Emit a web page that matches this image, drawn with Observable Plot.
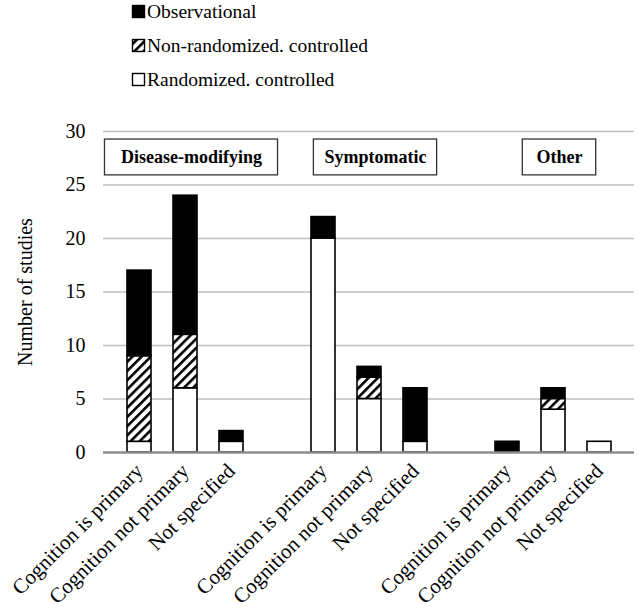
<!DOCTYPE html>
<html><head><meta charset="utf-8">
<script src="https://cdn.jsdelivr.net/npm/d3@7"></script>
<script src="https://cdn.jsdelivr.net/npm/@observablehq/plot@0.6"></script>
<style>
body{margin:0;background:#fff;font-family:"Liberation Serif";}
#wrap{position:relative;width:638px;height:609px;}
#wrap svg{position:absolute;left:0;top:0;}
#legend{z-index:2;}
</style></head><body>
<div id="wrap">
<svg id="legend" width="638" height="100" style="background:none;overflow:visible" font-family="Liberation Serif">
  <defs>
    <pattern id="hatch" patternUnits="userSpaceOnUse" width="6.5" height="6.5" patternTransform="rotate(45)">
      <rect width="6.5" height="6.5" fill="#fff"></rect>
      <rect width="2.6" height="6.5" fill="#000"></rect>
    </pattern>
  </defs>
  <rect x="132.5" y="5.5" width="12" height="12" fill="#000" stroke="#000" stroke-width="1.4"></rect>
  <text x="147" y="18" font-size="19.5" fill="#000">Observational</text>
  <rect x="132.5" y="39.5" width="12" height="12" fill="url(#hatch)" stroke="#000" stroke-width="1.4"></rect>
  <text x="147" y="52" font-size="19.5" fill="#000">Non-randomized. controlled</text>
  <rect x="132.5" y="73.5" width="12" height="12" fill="#fff" stroke="#000" stroke-width="1.4"></rect>
  <text x="147" y="86" font-size="19.5" fill="#000">Randomized. controlled</text>
</svg>
</div>
<script>
if (document.fonts && document.fonts.load) {
  document.fonts.load('20px "Liberation Serif"');
  document.fonts.load('bold 18px "Liberation Serif"');
}
// ---- data ----
const groups = ["Disease-modifying", "Symptomatic", "Other"];
const outcomes = ["Cognition is primary", "Cognition not primary", "Not specified"];
const designs = ["Randomized. controlled", "Non-randomized. controlled", "Observational"];
// values per group x outcome (group-major order)
const randomized    = [1, 6, 1,   20, 5, 1,   0, 4, 1];
const nonRandomized = [8, 5, 0,    0, 2, 0,   0, 1, 0];
const observational = [8, 13, 1,   2, 1, 5,   1, 1, 0];
const yTicks = [0, 5, 10, 15, 20, 25, 30];

// ---- build table ----
const seriesValues = [randomized, nonRandomized, observational];
const xDomain = [];
const labelFor = new Map();
groups.forEach((g, gi) => {
  if (gi > 0) xDomain.push("gap" + gi);
  outcomes.forEach(o => { const k = g + "|" + o; xDomain.push(k); labelFor.set(k, o); });
});
const rows = [];
groups.forEach((g, gi) => outcomes.forEach((o, oi) => {
  designs.forEach((d, di) => {
    const v = seriesValues[di][gi * outcomes.length + oi];
    if (v > 0) rows.push({key: g + "|" + o, design: d, value: v});
  });
}));
const designFills = ["#ffffff", "url(#hatch)", "#000000"];
const FONT = "Liberation Serif";

const W = 638, H = 609, mL = 103, mR = 4, mT = 131, mB = 157, PAD = 0.48;
const bw = d3.scaleBand().domain(xDomain).range([mL, W - mR]).padding(PAD).bandwidth();
const midKey = g => g + "|" + outcomes[1];

// framed panel labels (box width estimated from label length)
const boxMarks = groups.map(g => {
  const w = g.length * 8.3 + 32;
  const e = (w - bw) / 2;
  return Plot.barY([g], {x: midKey, y1: () => 25.9, y2: () => 29.25, fill: "#fff", stroke: "#333", strokeWidth: 1.3, insetLeft: -e + 6, insetRight: -e - 6});
});

const wrap = document.getElementById("wrap");

const chart = Plot.plot({
  width: W, height: H,
  marginTop: mT, marginBottom: mB, marginLeft: mL, marginRight: mR,
  style: {fontFamily: FONT, fontSize: "20px", color: "#000", background: "#fff"},
  x: {domain: xDomain, padding: PAD, label: null},
  y: {domain: [0, 30], label: null},
  color: {domain: designs, range: designFills},
  marks: [
    Plot.ruleY(yTicks.filter(t => t > 0), {stroke: "#bfbfbf", strokeWidth: 1.5}),
    Plot.barY(rows, {x: "key", y: "value", fill: "design", stroke: "#000", strokeWidth: 1.6}),
    Plot.ruleY([0], {stroke: "#8c8c8c", strokeWidth: 2.5}),
    Plot.axisY({ticks: yTicks, tickSize: 0, tickPadding: 18, fontSize: 20, fontFamily: FONT, label: "Number of studies", labelAnchor: "center", labelOffset: 86, labelArrow: "none"}),
    Plot.axisX({tickSize: 0, tickRotate: -45, tickPadding: 15, fontSize: 21, fontFamily: FONT, label: null, tickFormat: k => labelFor.get(k) ?? ""}),
    ...boxMarks,
    Plot.text(groups, {x: midKey, y: () => 27.6, text: d => d, fontWeight: "bold", fontSize: 18, fontFamily: FONT, dx: 6})
  ]
});
chart.style.zIndex = "1";
wrap.insertBefore(chart, wrap.firstChild);
</script>
</body></html>
